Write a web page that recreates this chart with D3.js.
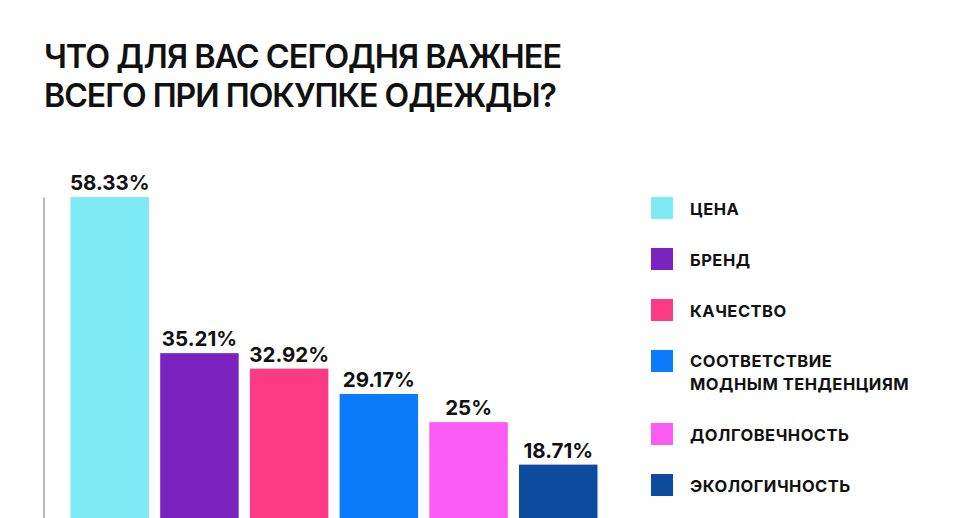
<!DOCTYPE html>
<html><head><meta charset="utf-8">
<script src="https://cdn.jsdelivr.net/npm/d3@7"></script>
<style>
html,body{margin:0;padding:0;background:#fff;overflow:hidden;}
svg{display:block;font-family:Inter,"Noto Sans",sans-serif;}
</style></head>
<body>
<svg id="chart" width="961" height="518"></svg>
<script>
const titleLines = ["ЧТО ДЛЯ ВАС СЕГОДНЯ ВАЖНЕЕ", "ВСЕГО ПРИ ПОКУПКЕ ОДЕЖДЫ?"];
const categories = ["ЦЕНА", "БРЕНД", "КАЧЕСТВО", "СООТВЕТСТВИЕ МОДНЫМ ТЕНДЕНЦИЯМ", "ДОЛГОВЕЧНОСТЬ", "ЭКОЛОГИЧНОСТЬ"];
const legendLines = [["ЦЕНА"], ["БРЕНД"], ["КАЧЕСТВО"], ["СООТВЕТСТВИЕ", "МОДНЫМ ТЕНДЕНЦИЯМ"], ["ДОЛГОВЕЧНОСТЬ"], ["ЭКОЛОГИЧНОСТЬ"]];
const values = [58.33, 35.21, 32.92, 29.17, 25, 18.71];
const valueLabels = ["58.33%", "35.21%", "32.92%", "29.17%", "25%", "18.71%"];
const colors = ["#7eeaf5", "#7b23bf", "#fd3a84", "#0a7cfb", "#fb5cf3", "#0d4b9e"];

const svg = d3.select("#chart");

// Title
const title = svg.append("g");
title.selectAll("text").data(titleLines).join("text")
  .attr("x", 44)
  .attr("y", (d, i) => 68 + i * 39)
  .attr("font-size", 32)
  .attr("font-weight", 600)
  .attr("letter-spacing", -1)
  .attr("fill", "#111")
  .attr("textLength", (d, i) => i === 0 ? 517 : 512)
  .attr("lengthAdjust", "spacingAndGlyphs")
  .text(d => d);

// Scales
const x = d3.scaleBand().domain(categories).range([70.5, 597.5]).paddingInner(0.125).paddingOuter(0);
const y = d3.scaleLinear().domain([0, d3.max(values)]).range([591, 197]);

// Axis (left line only)
svg.append("g")
  .attr("transform", "translate(43.5,0)")
  .call(d3.axisLeft(y).ticks(0).tickSizeOuter(0))
  .call(g => g.select(".domain").attr("stroke", "#8a8a8a").attr("stroke-width", 1.2));

const data = categories.map((c, i) => ({c, v: values[i], label: valueLabels[i], color: colors[i]}));

svg.append("g").selectAll("rect").data(data).join("rect")
  .attr("x", d => x(d.c))
  .attr("y", d => y(d.v))
  .attr("width", x.bandwidth())
  .attr("height", d => y(0) - y(d.v))
  .attr("fill", d => d.color);

svg.append("g").selectAll("text").data(data).join("text")
  .attr("x", d => x(d.c) + x.bandwidth() / 2)
  .attr("y", d => y(d.v) - 7)
  .attr("text-anchor", "middle")
  .attr("font-size", 20.5)
  .attr("font-weight", 700)
  .attr("fill", "#111")
  .text(d => d.label);

// Legend
let ly = 197;
const legend = svg.append("g");
legendLines.forEach((lines, i) => {
  const g = legend.append("g");
  g.append("rect").attr("x", 651).attr("y", ly).attr("width", 22).attr("height", 22).attr("fill", colors[i]);
  const base = lines.length === 1 ? ly + 17.5 : ly + 16.5;
  lines.forEach((t, j) => {
    g.append("text")
      .attr("x", 690)
      .attr("y", base + j * 23.7)
      .attr("font-size", 16.5)
      .attr("font-weight", 700)
      .attr("letter-spacing", 0.5)
      .attr("fill", "#111")
      .text(t);
  });
  ly += 51 + (lines.length - 1) * 22;
});
</script>
</body></html>
